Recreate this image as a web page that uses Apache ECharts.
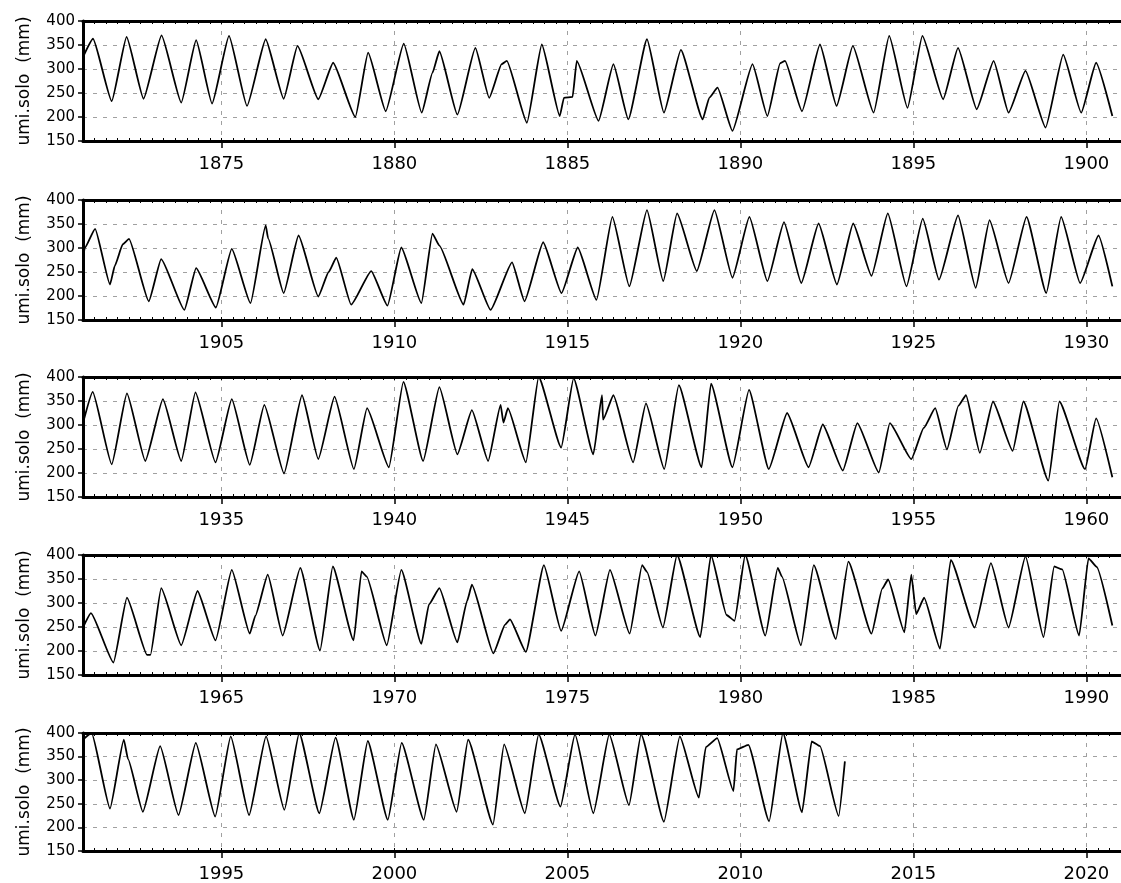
<!DOCTYPE html>
<html>
<head>
<meta charset="utf-8">
<script src="https://cdn.jsdelivr.net/npm/echarts@6/dist/echarts.min.js"></script>
<style>
  html, body { margin: 0; padding: 0; background: #fff; }
  #chart { width: 1121px; height: 883px; }
</style>
</head>
<body>
<div id="chart"></div>
<script>
// umidade do solo (mm), pontos [ano, valor]
const umi1871 = [
  [1871.0,325],[1871.29,363],[1871.83,233],[1872.26,367],[1872.75,238],[1873.27,370],[1873.84,230],
  [1874.27,360],[1874.73,228],[1875.22,369],[1875.74,223],[1876.28,362],[1876.8,238],[1877.2,348],
  [1877.8,237],[1878.23,313],[1878.87,200],[1879.24,334],[1879.75,212],[1880.27,353],[1880.79,209],
  [1881.1,292],[1881.3,337],[1881.82,205],[1882.34,344],[1882.74,240],[1883.1,310],[1883.25,317],
  [1883.83,188],[1884.26,351],[1884.78,202],[1884.9,240],[1885.15,242],[1885.27,317],[1885.9,192],
  [1886.33,310],[1886.76,195],[1887.3,362],[1887.79,209],[1888.28,340],[1888.91,195],[1889.1,240],
  [1889.34,261],[1889.77,171],[1890.35,310],[1890.78,202],[1891.15,312],[1891.29,317],[1891.78,212],
  [1892.3,351],[1892.78,223],[1893.25,348],[1893.85,209],[1894.3,369],[1894.83,219],[1895.26,369],
  [1895.86,237],[1896.29,344],[1896.83,216],[1897.32,317],[1897.75,209],[1898.24,296],[1898.82,178],
  [1899.33,330],[1899.85,209],[1900.28,313],[1900.75,202]
];
const umi1901 = [
  [1901.0,280],[1901.05,300],[1901.35,340],[1901.78,224],[1901.92,263],[1902.15,308],[1902.33,319],
  [1902.9,189],[1903.26,277],[1903.93,171],[1904.27,258],[1904.84,176],[1905.3,298],[1905.84,185],
  [1906.28,347],[1906.35,320],[1906.8,206],[1907.23,326],[1907.8,199],[1908.1,250],[1908.32,280],
  [1908.75,182],[1909.33,252],[1909.8,180],[1910.2,301],[1910.78,185],[1911.1,330],[1911.3,305],
  [1912.0,182],[1912.25,256],[1912.78,171],[1913.4,270],[1913.76,189],[1914.3,312],[1914.83,206],
  [1915.3,301],[1915.84,192],[1916.3,365],[1916.79,220],[1917.3,379],[1917.77,231],[1918.17,372],
  [1918.74,252],[1919.25,379],[1919.77,238],[1920.26,365],[1920.78,231],[1921.26,354],[1921.76,227],
  [1922.26,351],[1922.79,224],[1923.26,351],[1923.79,242],[1924.26,372],[1924.8,220],[1925.27,361],
  [1925.74,234],[1926.29,368],[1926.8,217],[1927.2,358],[1927.75,227],[1928.27,365],[1928.84,206],
  [1929.27,365],[1929.82,227],[1930.35,326],[1930.75,220]
];
const umi1931 = [
  [1931.0,304],[1931.28,369],[1931.83,218],[1932.27,366],[1932.8,225],[1933.31,354],[1933.84,225],
  [1934.25,368],[1934.83,222],[1935.3,354],[1935.82,217],[1936.24,342],[1936.81,199],[1937.33,362],
  [1937.8,229],[1938.27,359],[1938.83,208],[1939.21,335],[1939.84,212],[1940.26,390],[1940.83,225],
  [1941.3,379],[1941.82,239],[1942.24,331],[1942.71,225],[1943.07,342],[1943.15,305],[1943.28,335],
  [1943.8,222],[1944.17,400],[1944.82,253],[1945.18,397],[1945.75,239],[1946.0,362],[1946.03,311],
  [1946.33,362],[1946.9,222],[1947.27,345],[1947.8,208],[1948.22,383],[1948.88,212],[1949.15,386],
  [1949.77,212],[1950.25,373],[1950.82,208],[1951.35,325],[1951.97,212],[1952.38,301],[1952.96,205],
  [1953.38,304],[1954.0,201],[1954.32,304],[1954.94,229],[1955.3,294],[1955.63,335],[1955.97,249],
  [1956.3,340],[1956.52,362],[1956.92,242],[1957.3,349],[1957.87,246],[1958.18,349],[1958.9,184],
  [1959.22,349],[1959.96,208],[1960.28,314],[1960.75,191]
];
const umi1961 = [
  [1961.0,249],[1961.23,279],[1961.88,176],[1962.27,311],[1962.85,192],[1962.95,192],[1963.26,331],
  [1963.84,212],[1964.31,325],[1964.83,222],[1965.3,369],[1965.82,236],[1965.98,273],[1966.34,359],
  [1966.77,232],[1967.28,373],[1967.85,201],[1968.22,376],[1968.82,222],[1969.05,366],[1969.2,355],
  [1969.78,212],[1970.2,369],[1970.78,215],[1971.0,297],[1971.3,331],[1971.82,218],[1972.1,304],
  [1972.24,338],[1972.86,195],[1973.2,255],[1973.34,266],[1973.8,198],[1974.32,379],[1974.82,242],
  [1975.34,366],[1975.81,232],[1976.23,369],[1976.8,236],[1977.16,379],[1977.3,365],[1977.76,249],
  [1978.17,400],[1978.84,229],[1979.15,400],[1979.6,275],[1979.83,263],[1980.14,400],[1980.72,232],
  [1981.08,373],[1981.2,355],[1981.75,212],[1982.12,379],[1982.76,225],[1983.12,386],[1983.79,236],
  [1984.1,330],[1984.27,349],[1984.74,239],[1984.94,359],[1985.08,277],[1985.31,311],[1985.77,205],
  [1986.08,390],[1986.77,249],[1987.24,383],[1987.75,249],[1988.24,397],[1988.76,229],[1989.07,376],
  [1989.3,370],[1989.79,232],[1990.06,393],[1990.3,375],[1990.75,253]
];
const umi1991 = [
  [1991.0,386],[1991.25,400],[1991.78,240],[1992.18,386],[1992.3,345],[1992.73,233],[1993.23,372],
  [1993.76,226],[1994.26,379],[1994.82,223],[1995.27,393],[1995.8,226],[1996.29,393],[1996.82,237],
  [1997.25,400],[1997.83,230],[1998.3,390],[1998.83,216],[1999.23,383],[1999.81,216],[2000.21,379],
  [2000.85,216],[2001.2,376],[2001.8,233],[2002.13,386],[2002.85,206],[2003.17,376],[2003.77,230],
  [2004.17,397],[2004.8,244],[2005.22,397],[2005.75,230],[2006.21,397],[2006.78,247],[2007.13,397],
  [2007.79,212],[2008.25,393],[2008.8,263],[2009.0,370],[2009.33,389],[2009.8,277],[2009.9,365],
  [2010.23,375],[2010.83,213],[2011.23,400],[2011.78,232],[2012.06,382],[2012.3,372],[2012.84,224],
  [2013.02,340]
];

const inicios = [1871, 1901, 1931, 1961, 1991];
const anosRotulo = [
  [1875, 1880, 1885, 1890, 1895, 1900],
  [1905, 1910, 1915, 1920, 1925, 1930],
  [1935, 1940, 1945, 1950, 1955, 1960],
  [1965, 1970, 1975, 1980, 1985, 1990],
  [1995, 2000, 2005, 2010, 2015, 2020]
];
const series_umi = [umi1871, umi1901, umi1931, umi1961, umi1991];

const topos = [21, 200, 377, 555, 733];
const fonte = 'DejaVu Sans';
const tracejado = { color: '#a0a0a0', width: 1, type: [4, 6] };

const grid = [], xAxis = [], yAxis = [], series = [];
for (let i = 0; i < 5; i++) {
  const ini = inicios[i];
  // tracinhos pequenos nas bordas (a cada 4 meses)
  const menores = [];
  for (let k = 1; k < 90; k++) menores.push(ini + k / 3);

  grid.push({ left: 83, top: topos[i], width: 1045, height: 120 });
  // eixo de baixo (com rotulos)
  xAxis.push({
    type: 'value', gridIndex: i, position: 'bottom',
    min: ini, max: ini + 30,
    axisLine: { show: true, onZero: false, lineStyle: { color: '#000', width: 3 } },
    axisTick: { show: true, customValues: anosRotulo[i], length: 7, lineStyle: { color: '#000', width: 1.5 } },
    axisLabel: {
      customValues: anosRotulo[i], color: '#000', fontSize: 18, fontFamily: fonte, margin: 14,
      formatter: v => String(Math.round(v))
    },
    splitLine: { show: true, lineStyle: tracejado }
  });
  // borda de cima
  xAxis.push({
    type: 'value', gridIndex: i, position: 'top',
    min: ini, max: ini + 30,
    axisLine: { show: true, onZero: false, lineStyle: { color: '#000', width: 3 } },
    axisTick: { show: true, inside: true, customValues: menores, length: 3, lineStyle: { color: '#000', width: 1 } },
    axisLabel: { show: false }, splitLine: { show: false }
  });
  // tracinhos internos da borda de baixo
  xAxis.push({
    type: 'value', gridIndex: i, position: 'bottom', offset: 0,
    min: ini, max: ini + 30,
    axisLine: { show: false, onZero: false },
    axisTick: { show: true, inside: true, customValues: menores, length: 3, lineStyle: { color: '#000', width: 1 } },
    axisLabel: { show: false }, splitLine: { show: false }
  });
  yAxis.push({
    type: 'value', gridIndex: i, min: 150, max: 400, interval: 50,
    name: 'umi.solo  (mm)', nameLocation: 'middle', nameGap: 50,
    nameTextStyle: { color: '#000', fontSize: 17, fontFamily: fonte },
    axisLine: { show: true, onZero: false, lineStyle: { color: '#000', width: 3 } },
    axisTick: { show: true, length: 5, lineStyle: { color: '#000', width: 1.5 } },
    axisLabel: { color: '#000', fontSize: 15, fontFamily: fonte, margin: 8 },
    splitLine: { show: true, lineStyle: tracejado }
  });
  series.push({
    type: 'line', xAxisIndex: 3 * i, yAxisIndex: i,
    data: series_umi[i], showSymbol: false, clip: true,
    smooth: 0.15, smoothMonotone: 'x',
    lineStyle: { color: '#000', width: 1.8 }
  });
}

const myChart = echarts.init(document.getElementById('chart'));
myChart.setOption({
  backgroundColor: '#fff',
  animation: false,
  grid: grid,
  xAxis: xAxis,
  yAxis: yAxis,
  series: series
});
</script>
</body>
</html>
